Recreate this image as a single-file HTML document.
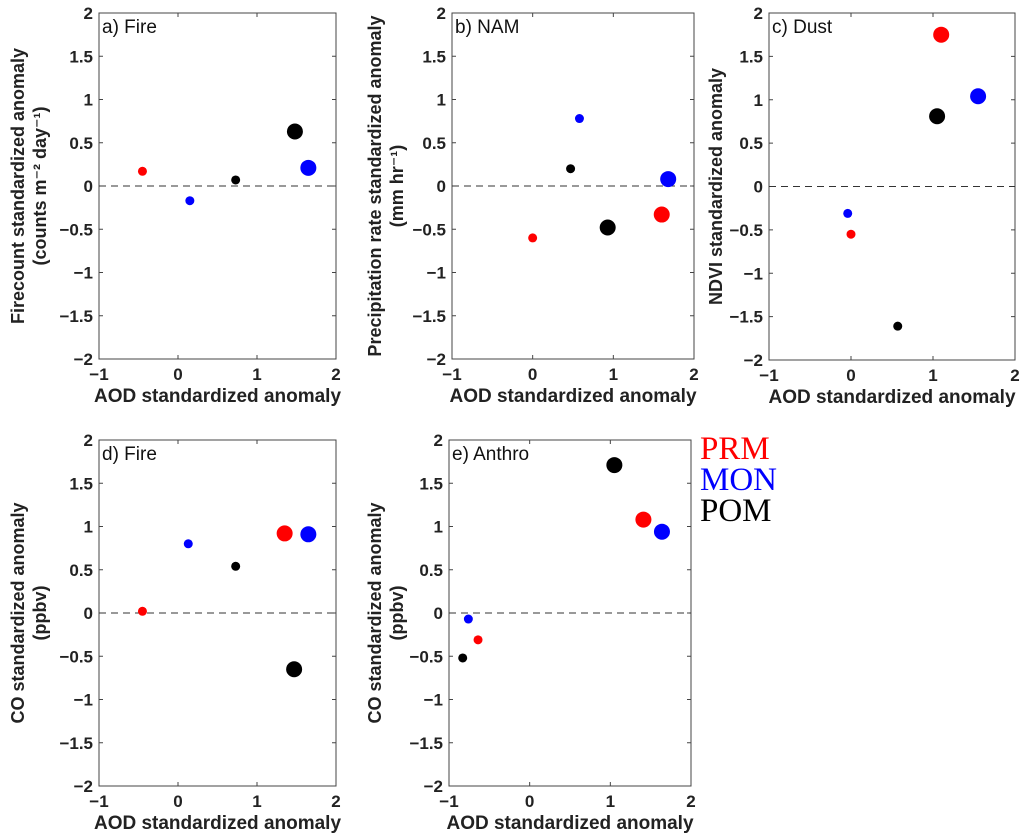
<!DOCTYPE html>
<html><head><meta charset="utf-8"><style>
body{margin:0;background:#fff;}
svg{display:block;font-family:"Liberation Sans","DejaVu Sans",sans-serif;}
.tk{font-size:17px;font-weight:bold;fill:#222;}
.lab{font-size:19px;font-weight:bold;fill:#222;}
.ylab{font-size:18px;font-weight:bold;fill:#222;}
.ttl{font-size:19px;fill:#111;}
</style></head><body>
<svg id="c" width="1024" height="839"></svg>
<script>
const panelNames=["a) Fire","b) NAM","c) Dust","d) Fire","e) Anthro"];
const seriesNames=["PRM","MON","POM"];
const seriesColors=["#ff0000","#0000ff","#000000"];
// each panel: [series, size(0 small,1 large), aod, yval]
const panelA=[[0,0,-0.45,0.17],[1,0,0.15,-0.17],[2,0,0.73,0.07],[2,1,1.48,0.63],[1,1,1.65,0.21]];
const panelB=[[0,0,0,-0.6],[1,0,0.58,0.78],[2,0,0.47,0.2],[2,1,0.93,-0.48],[0,1,1.6,-0.33],[1,1,1.68,0.08]];
const panelC=[[0,0,0,-0.55],[1,0,-0.04,-0.31],[2,0,0.57,-1.61],[0,1,1.1,1.75],[1,1,1.55,1.04],[2,1,1.05,0.81]];
const panelD=[[0,0,-0.45,0.02],[1,0,0.13,0.8],[2,0,0.73,0.54],[0,1,1.35,0.92],[1,1,1.65,0.91],[2,1,1.47,-0.65]];
const panelE=[[0,0,-0.64,-0.31],[1,0,-0.76,-0.07],[2,0,-0.83,-0.52],[2,1,1.05,1.71],[0,1,1.41,1.08],[1,1,1.64,0.94]];
const xTicks=[-1,0,1,2];
const yTicks=[-2,-1.5,-1,-0.5,0,0.5,1,1.5,2];
const yLabels=[["Firecount standardized anomaly","(counts m\u207B\u00B2 day\u207B\u00B9)"],["Precipitation rate standardized anomaly","(mm hr\u207B\u00B9)"],["NDVI standardized anomaly"],["CO standardized anomaly","(ppbv)"],["CO standardized anomaly","(ppbv)"]];
const boxes=[[99,13,336,359,18],[452,13,694,359,375],[769,13,1015,360,716],[99,440,336,786,18],[449,440,691,786,375]];
const allData=[panelA,panelB,panelC,panelD,panelE];
const NS="http://www.w3.org/2000/svg";
const svg=document.getElementById('c');
function mk(t,a,p){const e=document.createElementNS(NS,t);for(const k in a)e.setAttribute(k,a[k]);(p||svg).appendChild(e);return e;}
allData.forEach((data,pi)=>{
 const [x0,y0,x1,y1,ylx]=boxes[pi];
 const g=mk('g',{});
 
 
 const sx=v=>x0+(v+1)/3*(x1-x0);
 const sy=v=>y1-(v+2)/4*(y1-y0);
 const box=mk('rect',{x:x0,y:y0,width:x1-x0,height:y1-y0,fill:'none',stroke:'#444','stroke-width':1},g);
 
 
 xTicks.forEach(t=>{
  const x=sx(t);
  mk('line',{x1:x,x2:x,y1:y1,y2:y1-4,stroke:'#444'},g);mk('line',{x1:x,x2:x,y1:y0,y2:y0+4,stroke:'#444'},g);
  const tx=mk('text',{x:x,y:y1+21,'text-anchor':'middle',class:'tk'},g);tx.textContent=t<0?'\u2212'+(-t):t;
  
  
 });
 yTicks.forEach(t=>{
  const y=sy(t);
  mk('line',{x1:x0,x2:x0+4,y1:y,y2:y,stroke:'#444'},g);mk('line',{x1:x1,x2:x1-4,y1:y,y2:y,stroke:'#444'},g);
  const tx=mk('text',{x:x0-6,y:y+6,'text-anchor':'end',class:'tk'},g);tx.textContent=t<0?'\u2212'+(-t):t;
  
  
 });
 const zl=mk('line',{x1:x0,x2:x1,y1:sy(0),y2:sy(0),stroke:'#333','stroke-dasharray':'7,5'},g);
 
 
 const tt=mk('text',{x:x0+3,y:y0+20,class:'ttl'},g);tt.textContent=panelNames[pi];
 
 
 const xl=mk('text',{x:(x0+x1)/2,y:y1+43,'text-anchor':'middle',class:'lab'},g);xl.textContent='AOD standardized anomaly';
 
 
 const lines=yLabels[pi];const cy=(y0+y1)/2;
 lines.forEach((s,i)=>{
  const lx=ylx+i*22;
  const yl=mk('text',{x:lx,y:cy,'text-anchor':'middle',class:'ylab',transform:`rotate(-90 ${lx} ${cy})`,dy:6},g);yl.textContent=s;
  
  
 });
 data.forEach(d=>{
  const c=mk('circle',{cx:sx(d[2]),cy:sy(d[3]),r:d[1]?8:4.5,fill:seriesColors[d[0]]},g);
  
  
 });
});
seriesNames.forEach((s,i)=>{
 const t=mk('text',{x:700,y:459+i*31,fill:seriesColors[i],'font-size':'33px','font-family':'"Liberation Serif",serif'});
 t.textContent=s;
 
 
});
</script>
</body></html>
